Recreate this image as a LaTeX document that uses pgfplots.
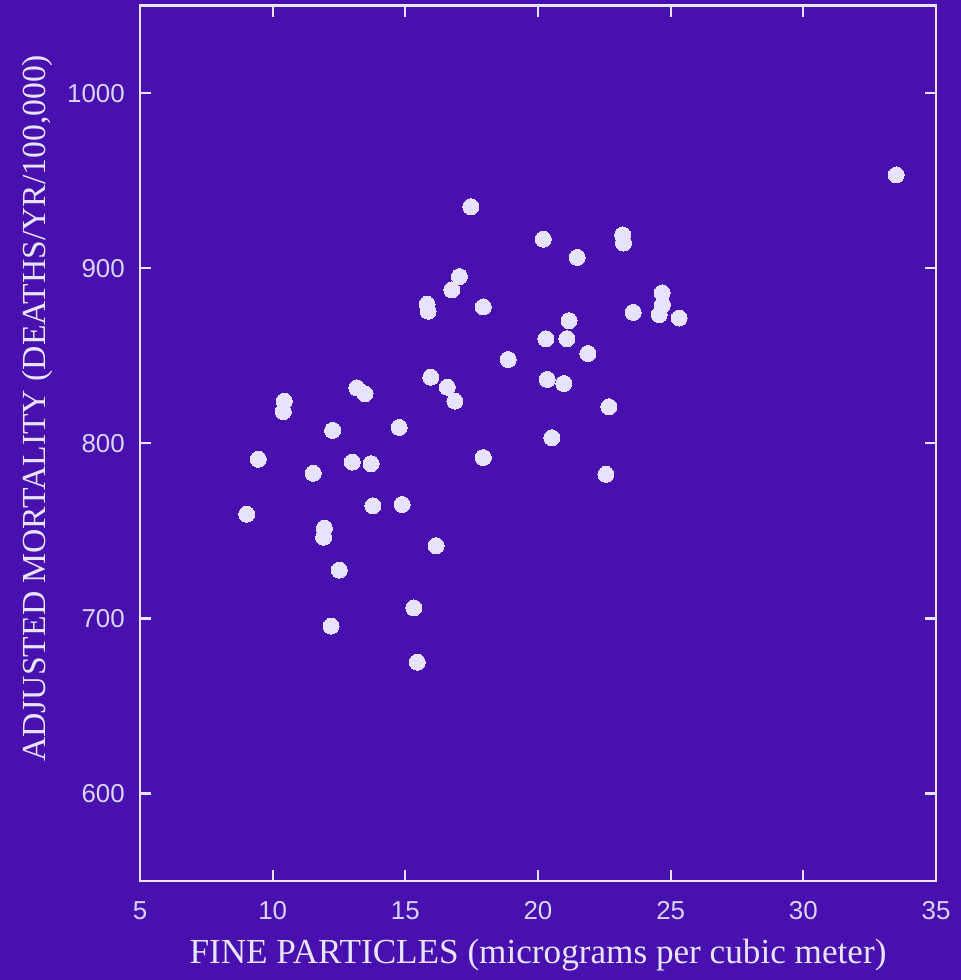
\documentclass[border=0pt]{standalone}
\usepackage{pgfplots}
\pgfplotsset{compat=1.18}
\usepackage{fontspec}
\setmainfont{Liberation Serif}
\newfontfamily\tickfont{Liberation Sans}
\definecolor{bg}{RGB}{72,16,174}
\definecolor{fg}{RGB}{232,228,255}
\definecolor{dot}{RGB}{230,226,255}
\pagecolor{bg}
\begin{document}
\begin{tikzpicture}
\begin{axis}[name=ax, scale only axis, width=796bp, height=875.3bp,
  xmin=5, xmax=35, ymin=550, ymax=1050,
  xtick={5,10,...,35}, ytick={600,700,...,1000},
  axis line style={fg, line width=2.5bp},
  major tick style={fg, line width=2.2bp}, major tick length=11bp,
  tick align=inside,
  /pgf/number format/assume math mode=true,
  /pgf/number format/1000 sep={},
  tick label style={inner sep=0pt, font=\tickfont\fontsize{26}{26}\selectfont, text=fg!92!bg},
  yticklabel style={xshift=-15bp},
  xticklabel style={yshift=-20bp},
  xlabel={FINE PARTICLES (micrograms per cubic meter)},
  ylabel={ADJUSTED MORTALITY (DEATHS/YR/100,000)},
  xlabel style={at={(axis description cs:0.5,-0.0948)}, anchor=base, font=\fontsize{35.3}{35.3}\selectfont, text=fg},
  ylabel style={at={(axis description cs:-0.1193,0.54)}, anchor=base, font=\fontsize{33.8}{33.8}\selectfont, text=fg},
]
\addplot[only marks, mark=*, mark size=8bp, mark options={fill=dot, draw=dot, line width=0pt}] table {
x y
9.02 759.5
9.46 790.9
10.44 824.1
10.40 818.1
11.53 782.9
11.95 751.6
11.92 746.4
12.26 807.4
12.20 695.6
12.51 727.6
13.00 789.3
13.17 831.7
13.48 828.3
13.71 788.4
13.78 764.3
14.77 809.1
14.88 765.1
15.32 706.0
15.45 675.0
16.16 741.5
15.82 879.5
15.86 875.5
15.96 837.8
16.58 832.1
16.87 824.1
16.75 887.7
17.04 895.3
17.47 935.2
17.94 877.9
17.94 791.9
18.88 847.9
20.20 916.6
21.48 906.2
23.19 919.1
23.22 914.4
24.68 885.9
24.69 879.2
24.57 873.5
23.59 874.8
25.32 871.6
21.17 870.1
20.30 859.7
21.09 859.8
21.88 851.3
20.35 836.5
20.97 834.2
22.67 820.9
20.52 803.2
22.56 782.3
33.50 953.3
};
\end{axis}
\pgfresetboundingbox
\path (ax.south west) ++(-140bp,-99bp) rectangle ++(961bp,980bp);
\end{tikzpicture}
\end{document}
